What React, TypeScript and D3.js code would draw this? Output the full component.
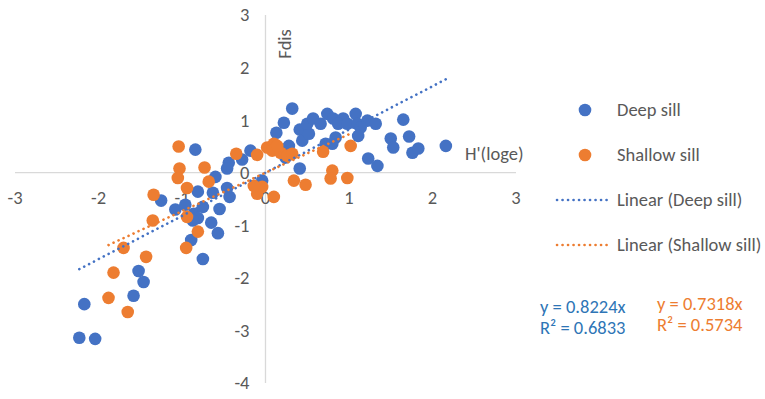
import React from "react";
import * as d3 from "d3";

// values
const deepSill: [number, number][] = [
  [-2.17, -2.5], [-2.23, -3.14], [-2.04, -3.16], [-1.58, -2.34], [-1.52, -1.87],
  [-1.46, -2.08], [-0.75, -1.64], [-0.89, -1.28], [-0.57, -1.15], [-0.84, 0.44],
  [-0.18, 0.42], [-0.44, 0.19], [-0.46, 0.08], [-0.28, 0.25], [-0.6, -0.08],
  [-0.04, -0.15], [-0.81, -0.36], [-0.63, -0.38], [-0.46, -0.29], [-0.43, -0.46],
  [-1.25, -0.53], [-1.08, -0.7], [-0.96, -0.61], [-0.86, -0.78], [-0.75, -0.65],
  [-0.55, -0.69], [-0.81, -0.86], [-0.65, -0.95], [-0.87, -0.91], [0.32, 1.22],
  [0.22, 0.95], [0.13, 0.76], [0.28, 0.51], [0.06, 0.48], [0.24, 0.29],
  [0.41, 0.08], [0.41, 0.82], [0.44, 0.61], [0.52, 0.74], [0.5, 0.93],
  [0.57, 1.03], [0.66, 0.93], [0.74, 1.12], [0.81, 1.03], [0.93, 1.03],
  [0.87, 0.93], [0.98, 0.93], [1.08, 1.12], [1.1, 0.93], [1.22, 0.99],
  [1.32, 0.93], [1.14, 0.86], [0.72, 0.55], [0.84, 0.67], [0.8, 0.55],
  [1.11, 0.7], [1.23, 0.27], [1.34, 0.13], [1.5, 0.65], [1.53, 0.48],
  [1.65, 1.01], [1.72, 0.69], [1.76, 0.38], [1.83, 0.46], [2.16, 0.51],
];

const shallowSill: [number, number][] = [
  [-1.7, -1.43], [-1.43, -1.6], [-1.82, -1.9], [-1.88, -2.38], [-1.65, -2.65],
  [-0.95, -1.43], [-0.81, -1.12], [-1.04, 0.5], [-1.03, 0.08], [-1.05, -0.1],
  [-0.73, 0.1], [-0.94, -0.29], [-0.68, -0.17], [-1.34, -0.42], [-1.35, -0.91],
  [-0.94, -0.84], [-0.35, 0.36], [-0.1, 0.34], [-0.1, -0.4], [-0.04, -0.27],
  [-0.14, -0.25], [0.02, 0.48], [0.1, 0.55], [0.08, 0.42], [0.18, 0.38],
  [0.26, 0.32], [0.32, 0.36], [0.14, 0.51], [0.69, 0.4], [1.02, 0.51],
  [0.8, 0.04], [0.78, -0.11], [0.98, -0.1], [0.34, -0.15], [0.48, -0.23],
  [0.1, -0.46],
];

const xTicks = [-3, -2, -1, 0, 1, 2, 3];
const yTicks = [-4, -3, -2, -1, 0, 1, 2, 3];
const slopes = { deep: 0.8224, shallow: 0.7318 };
const legendLabels = ["Deep sill", "Shallow sill", "Linear (Deep sill)", "Linear (Shallow sill)"];

const blue = "#4472C4";
const orange = "#ED7D31";
const grey = "#595959";
const font = "Calibri, Carlito, 'Open Sans', sans-serif";
const fs = 18.5;

const App = () => {
  const x = d3.scaleLinear().domain([-3, 3]).range([15, 516]);
  const y = d3.scaleLinear().domain([-4, 3]).range([383, 15]);

  const trend = (pts: [number, number][], k: number) => {
    const [lo, hi] = d3.extent(pts, d => d[0]) as [number, number];
    return d3.line<[number, number]>().x(d => x(d[0])).y(d => y(d[1]))([[lo, lo * k], [hi, hi * k]]) || "";
  };

  const dotted = { strokeWidth: 2.6, strokeDasharray: "0.1 5.4", strokeLinecap: "round" as const, fill: "none" };

  return (
    <svg width={765} height={399} style={{ position: "absolute", left: 0, top: 0, fontFamily: font }}>
      <rect width={765} height={399} fill="#fff" />
      {/* axes crossing at the origin */}
      <line x1={x(-3)} x2={x(3)} y1={y(0)} y2={y(0)} stroke="#d9d9d9" strokeWidth={1.3} />
      <line x1={x(0)} x2={x(0)} y1={y(-4)} y2={y(3)} stroke="#d9d9d9" strokeWidth={1.3} />
      {xTicks.map(t => (
        <text key={"x" + t} x={x(t)} y={y(0) + 25} dy="0.35em" textAnchor="middle" fontSize={fs} fill={grey}>{t}</text>
      ))}
      {yTicks.map(t => (
        <text key={"y" + t} x={x(0) - 16} y={y(t)} dy="0.35em" textAnchor="end" fontSize={fs} fill={grey}>{t}</text>
      ))}
      <text transform={`translate(${x(0) + 25},${y(2.45)}) rotate(-90)`} textAnchor="middle" fontSize={fs} fill={grey}>Fdis</text>
      <text x={465} y={y(0.36)} dy="0.35em" fontSize={fs} fill={grey}>H'(loge)</text>

      {deepSill.map((d, i) => (
        <circle key={"d" + i} cx={x(d[0])} cy={y(d[1])} r={6.3} fill={blue} />
      ))}
      {shallowSill.map((d, i) => (
        <circle key={"s" + i} cx={x(d[0])} cy={y(d[1])} r={6.3} fill={orange} />
      ))}

      <path d={trend(deepSill, slopes.deep)} stroke={blue} {...dotted} />
      <path d={trend(shallowSill, slopes.shallow)} stroke={orange} {...dotted} />

      {/* legend */}
      <circle cx={585} cy={110} r={6.3} fill={blue} />
      <circle cx={585} cy={155} r={6.3} fill={orange} />
      <line x1={557} x2={611} y1={200} y2={200} stroke={blue} {...dotted} />
      <line x1={557} x2={611} y1={245} y2={245} stroke={orange} {...dotted} />
      {legendLabels.map((l, i) => (
        <text key={l} x={617} y={110 + i * 45} dy="0.35em" fontSize={fs} fill={grey}>{l}</text>
      ))}

      <text x={540} y={307} dy="0.35em" fontSize={fs} fill="#2E75B6">{`y = ${slopes.deep}x`}</text>
      <text x={540} y={328} dy="0.35em" fontSize={fs} fill="#2E75B6">R² = 0.6833</text>
      <text x={657} y={304} dy="0.35em" fontSize={fs} fill={orange}>{`y = ${slopes.shallow}x`}</text>
      <text x={657} y={325} dy="0.35em" fontSize={fs} fill={orange}>R² = 0.5734</text>
    </svg>
  );
};

export default App;
